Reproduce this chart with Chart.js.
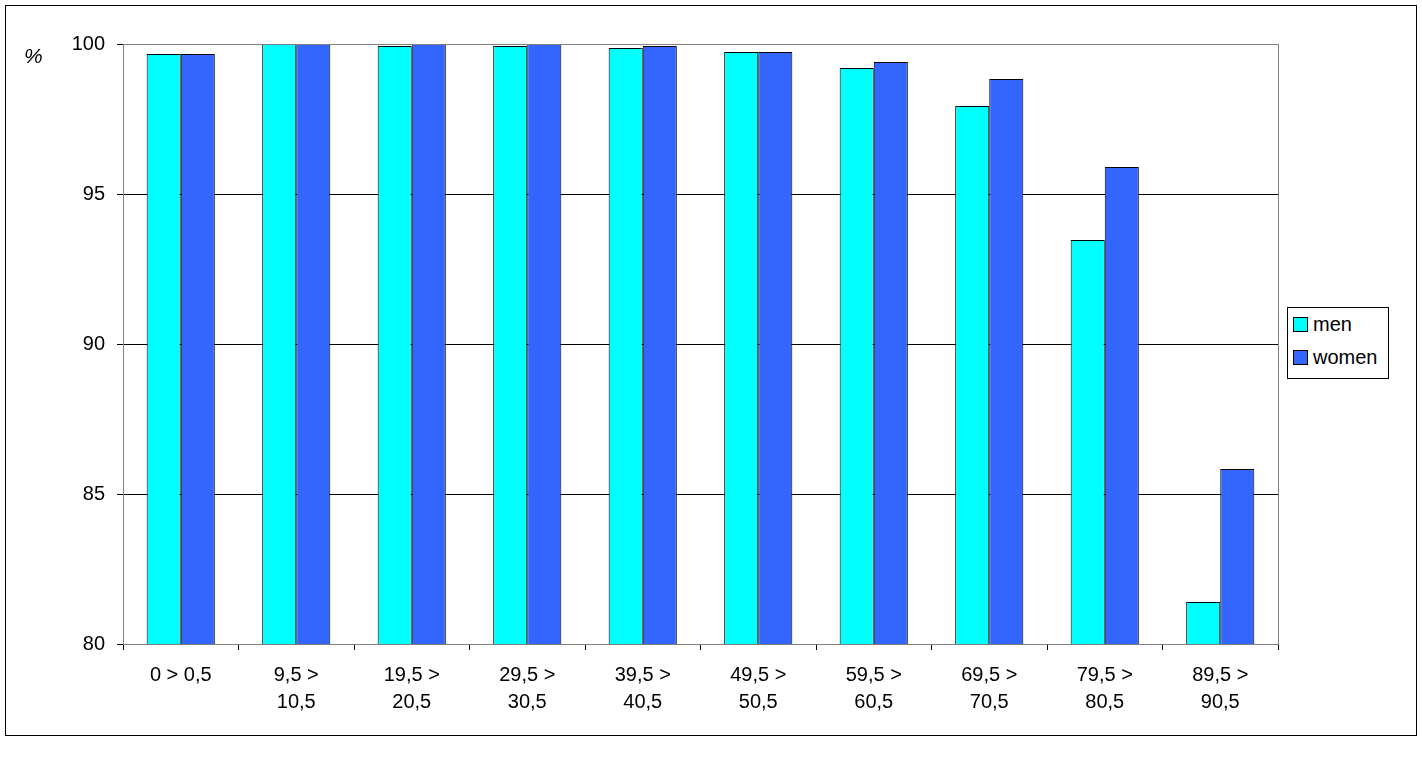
<!DOCTYPE html>
<html><head><meta charset="utf-8">
<script src="https://cdn.jsdelivr.net/npm/chart.js@4"></script>
<style>
body{margin:0;background:#fff;font-family:"Liberation Sans",Arial,sans-serif}
#wrap{position:relative;width:1422px;height:757px}
#pct{position:absolute;left:24px;top:44px;font-size:21px;font-style:italic}
#leg{position:absolute;left:1287px;top:307px;width:100px;height:70px;border:1px solid #000;background:#fff;font-size:20px}
#leg div{display:flex;align-items:center;height:33px;padding-left:5px}
#leg span{display:inline-block;width:13px;height:13px;border:1px solid #000;margin-right:5px}
</style></head><body>
<div id="wrap"><canvas id="c" width="1422" height="757"></canvas>
<div id="pct">%</div>
<div id="leg"><div><span style="background:#00ffff"></span>men</div><div><span style="background:#3366ff"></span>women</div></div>
</div>
<script>
const categories=[["0 > 0,5"],["9,5 >","10,5"],["19,5 >","20,5"],["29,5 >","30,5"],["39,5 >","40,5"],["49,5 >","50,5"],["59,5 >","60,5"],["69,5 >","70,5"],["79,5 >","80,5"],["89,5 >","90,5"]];
const men=[99.67,100,99.93,99.93,99.87,99.73,99.2,97.93,93.47,81.4];
const women=[99.67,100,100,100,99.93,99.73,99.4,98.83,95.9,85.83];
const yTicks=[80,85,90,95,100];
const borders={id:'b',afterDraw(c){const x=c.ctx,a=c.chartArea;x.save();x.strokeStyle='#808080';x.lineWidth=1;x.strokeRect(a.left+.5,a.top+.5,a.right-a.left,a.bottom-a.top);x.strokeStyle='#000';x.strokeRect(5.5,5.5,1411,730);x.restore();}};
new Chart(document.getElementById('c'),{type:'bar',
data:{labels:categories,datasets:[
{label:'men',data:men,backgroundColor:'#00ffff',borderColor:'#000',borderWidth:1,borderSkipped:'bottom'},
{label:'women',data:women,backgroundColor:'#3366ff',borderColor:'#000',borderWidth:1,borderSkipped:'bottom'}]},
options:{responsive:false,animation:false,devicePixelRatio:1,
layout:{padding:{top:44,right:144,left:0,bottom:0}},
plugins:{legend:{display:false},tooltip:{enabled:false}},
datasets:{bar:{barPercentage:1,categoryPercentage:0.59}},
scales:{
x:{afterFit(s){s.height=113},grid:{display:true,drawOnChartArea:false,offset:true,color:'#000',tickLength:6},border:{color:'#000'},
ticks:{color:'#000',font:{size:20,family:'Liberation Sans',lineHeight:1.35},maxRotation:0,padding:12}},
y:{min:80,max:100,afterFit(s){s.width=123},afterBuildTicks(s){s.ticks=yTicks.map(v=>({value:v}))},
grid:{color:'#000',tickLength:6},border:{color:'#000'},
ticks:{color:'#000',font:{size:20,family:'Liberation Sans'},padding:12}}}},
plugins:[borders]});
</script></body></html>
